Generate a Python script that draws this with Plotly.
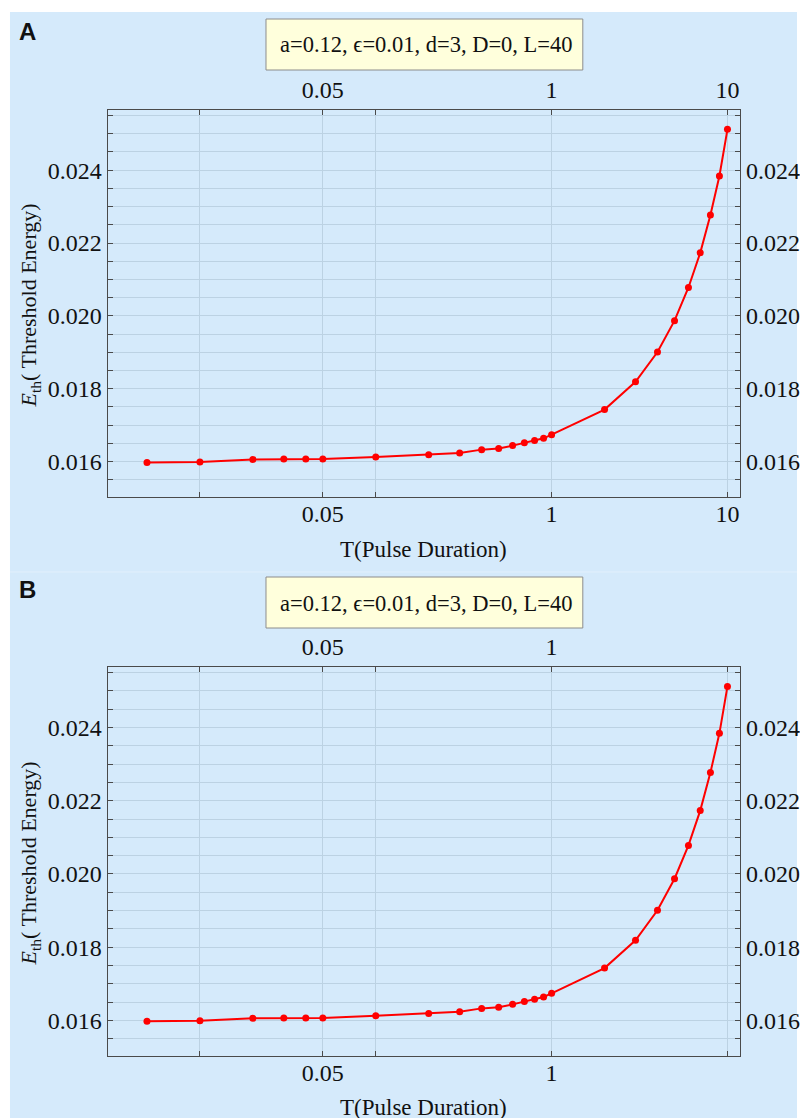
import plotly.graph_objects as go

# ---------------- data ----------------
T_pulse = [0.005, 0.01, 0.02, 0.03, 0.04, 0.05, 0.1, 0.2, 0.3, 0.4, 0.5, 0.6, 0.7,
           0.8, 0.9, 1, 2, 3, 4, 5, 6, 7, 8, 9, 10]
E_th = [0.01598, 0.01599, 0.01606, 0.01607, 0.01607, 0.01607, 0.01613, 0.01619,
        0.01624, 0.01633, 0.01636, 0.01644, 0.01652, 0.01658, 0.01664, 0.01674,
        0.01743, 0.01819, 0.01901, 0.01987, 0.02078, 0.02173, 0.02277, 0.02384,
        0.02512]

x_tickvals = [0.01, 0.05, 0.1, 1, 10]
x_ticktext_A = ["", "0.05", "", "1", "10"]
x_ticktext_B = ["", "0.05", "", "1", ""]
y_tickvals = [0.0155, 0.016, 0.0165, 0.017, 0.0175, 0.018, 0.0185, 0.019, 0.0195,
              0.020, 0.0205, 0.021, 0.0215, 0.022, 0.0225, 0.023, 0.0235, 0.024,
              0.0245, 0.025, 0.0255]
y_ticktext = ["", "0.016", "", "", "", "0.018", "", "", "", "0.020", "", "", "",
              "0.022", "", "", "", "0.024", "", "", ""]
legend_text = "a=0.12, \u03f5=0.01, d=3, D=0, L=40"
x_title = "T(Pulse Duration)"
y_title = "<i>E</i><sub>th</sub>( Threshold Energy)"

# ---------------- geometry / style ----------------
W, H = 800, 1118
BG = "#D5EAFB"
GRID = "#BCD2E3"
AXC = "#4a4a4a"
SERIF = "Liberation Serif"
XR = [-2.525, 1.0725]
YR = [0.01503, 0.02565]


def px(x):
    return x / W


def py(y):
    return 1 - y / H


panels = [
    dict(top=110, bottom=497, xt=x_ticktext_A, off=0, letter="A"),
    dict(top=667, bottom=1056, xt=x_ticktext_B, off=558, letter="B"),
]

fig = go.Figure()
layout = dict(width=W, height=H, margin=dict(l=0, r=0, t=0, b=0),
              paper_bgcolor="white", plot_bgcolor="rgba(0,0,0,0)",
              showlegend=False, shapes=[], annotations=[])

tickfont = dict(family=SERIF, size=24, color="#111")

# backgrounds
layout["shapes"].append(dict(type="rect", xref="paper", yref="paper", x0=px(10), x1=1,
                             y0=0, y1=py(12), fillcolor=BG, line=dict(width=0),
                             layer="below"))
layout["shapes"].append(dict(type="line", xref="paper", yref="paper", x0=px(10), x1=1,
                             y0=py(572), y1=py(572), line=dict(color="#E2F0FC", width=1),
                             layer="below"))

for i, p in enumerate(panels):
    n = 2 * i + 1
    xa, ya, xt, yr = f"x{'' if n == 1 else n}", f"y{'' if n == 1 else n}", f"x{n+1}", f"y{n+1}"
    xk = "xaxis" if n == 1 else f"xaxis{n}"
    yk = "yaxis" if n == 1 else f"yaxis{n}"
    dom_x = [px(108), px(743)]
    dom_y = [py(p["bottom"]), py(p["top"])]
    base_x = dict(type="log", range=XR, tickmode="array", tickvals=x_tickvals,
                  ticktext=p["xt"], ticks="inside", ticklen=5, tickcolor=AXC,
                  showline=True, linecolor=AXC, linewidth=1, zeroline=False,
                  tickfont=tickfont)
    base_y = dict(range=YR, tickmode="array", tickvals=y_tickvals, ticktext=y_ticktext,
                  ticks="inside", ticklen=5, tickcolor=AXC, showline=True,
                  linecolor=AXC, linewidth=1, zeroline=False, tickfont=tickfont)
    layout[xk] = dict(base_x, domain=dom_x, anchor=ya, side="bottom", showgrid=True,
                      gridcolor=GRID, gridwidth=1, ticklabelstandoff=-5)
    layout[yk] = dict(base_y, domain=dom_y, anchor=xa, side="left", showgrid=True,
                      gridcolor=GRID, gridwidth=1, ticklabelstandoff=0)
    layout[f"xaxis{n+1}"] = dict(base_x, overlaying=xa, anchor=ya, side="top",
                                 showgrid=False, ticklabelstandoff=1)
    layout[f"yaxis{n+1}"] = dict(base_y, overlaying=ya, anchor=xa, side="right",
                                 showgrid=False, ticklabelstandoff=0)

    fig.add_trace(go.Scatter(x=T_pulse, y=E_th, xaxis=xa, yaxis=ya, mode="lines+markers",
                             line=dict(color="#FF0000", width=2),
                             marker=dict(color="#FF0000", size=7, symbol="circle"),
                             hoverinfo="skip"))
    fig.add_trace(go.Scatter(x=T_pulse, y=E_th, xaxis=xt, yaxis=yr, mode="markers",
                             marker=dict(opacity=0), hoverinfo="skip"))

    off = p["off"]
    # legend box
    layout["shapes"].append(dict(type="rect", xref="paper", yref="paper",
                                 x0=px(267), x1=px(585), y0=py(71 + off - 1),
                                 y1=py(19 + off), fillcolor="#FFFFDC",
                                 line=dict(color="#8c8c8c", width=1)))
    layout["annotations"].append(dict(xref="paper", yref="paper", x=px(428),
                                      y=py(45 + off), text=legend_text, showarrow=False,
                                      font=dict(family=SERIF, size=22.5, color="#111"),
                                      xanchor="center", yanchor="middle"))
    # panel letter
    layout["annotations"].append(dict(xref="paper", yref="paper", x=px(17),
                                      y=py(31 + off), text=f"<b>{p['letter']}</b>",
                                      showarrow=False,
                                      font=dict(family="Liberation Sans", size=24,
                                                color="#111"),
                                      xanchor="left", yanchor="middle"))
    # axis titles
    layout["annotations"].append(dict(xref="paper", yref="paper", x=px(425),
                                      y=py(549 + off), text=x_title, showarrow=False,
                                      font=dict(family=SERIF, size=23, color="#111"),
                                      xanchor="center", yanchor="middle"))
    mid = (p["top"] + p["bottom"]) / 2
    layout["annotations"].append(dict(xref="paper", yref="paper", x=px(30),
                                      y=py(mid + 2), text=y_title, showarrow=False,
                                      textangle=-90,
                                      font=dict(family=SERIF, size=22, color="#111"),
                                      xanchor="center", yanchor="middle"))

fig.update_layout(**layout)
fig.write_html("out.html", config={"displayModeBar": False},
               post_script="document.body.style.margin='0px';document.body.style.padding='0px';")
